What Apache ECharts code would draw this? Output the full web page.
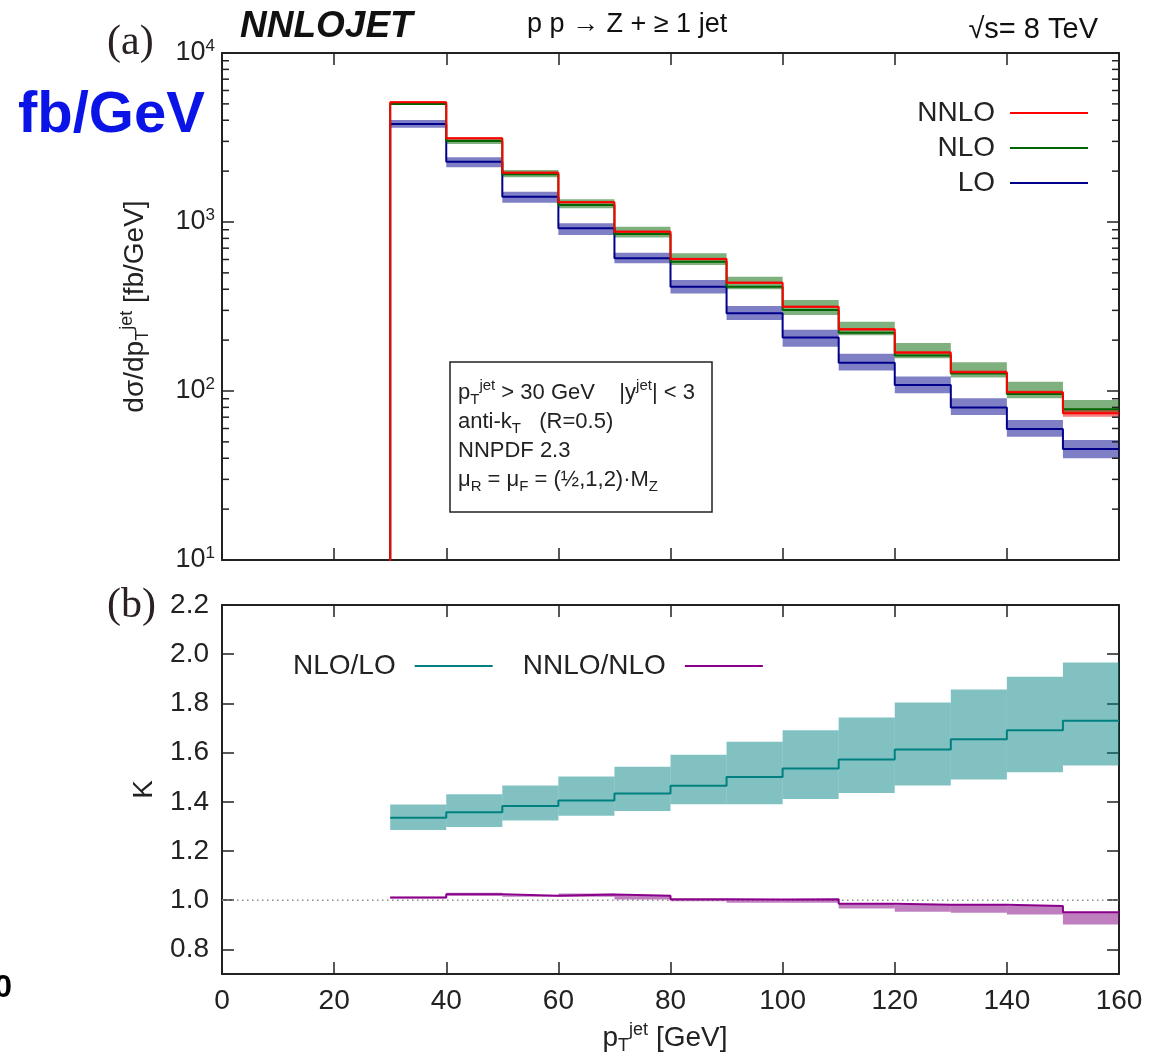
<!DOCTYPE html>
<html><head><meta charset="utf-8">
<script src="https://cdn.jsdelivr.net/npm/echarts@6/dist/echarts.min.js"></script>
<style>html,body{margin:0;padding:0;background:#fff;}#c{width:1157px;height:1056px;}</style>
</head><body><div id="c"></div>
<script>
// ---- data ----
const binEdges = [30,40,50,60,70,80,90,100,110,120,130,140,150,160];
const nnlo    = [5108,3128,1958,1309,877,604,437,315,232,169,129,98.2,73.8];
const nnloLow = [5030,3080,1925,1290,864,594,430,310,227,165,126,95.5,70.4];
const nnloHigh= [5180,3170,1990,1330,890,614,444,320,236,172,132,100.5,77.2];
const nlo     = [4993,3015,1916,1262,849,582,414,301,221,162,127,96,78];
const nloLow  = [4930,2890,1839,1205,811,557,400,282,214,156,120,90.5,73.8];
const nloHigh = [5150,3128,2031,1362,938,653,474,345,257,192,148,113.5,88.4];
const lo      = [3802,2274,1412,918,610,414,288,207,147,108.6,80,59.6,45.4];
const loLow   = [3614,2107,1301,838,570,378,263,183,132,97,72,53.7,40];
const loHigh  = [4013,2415,1511,982,658,454,318,230,166,122,90.5,67.4,51.3];
const kNloLo     = [1.335,1.358,1.383,1.405,1.434,1.465,1.501,1.535,1.572,1.613,1.654,1.691,1.729];
const kNloLoLow  = [1.285,1.298,1.324,1.343,1.363,1.390,1.390,1.411,1.436,1.466,1.491,1.520,1.548];
const kNloLoHigh = [1.389,1.431,1.466,1.503,1.542,1.591,1.644,1.691,1.743,1.804,1.856,1.908,1.966];
const kNnloNlo     = [1.011,1.024,1.018,1.023,1.018,1.004,1.003,1.004,0.986,0.981,0.981,0.976,0.951];
const kNnloNloLow  = [1.007,1.018,1.014,1.014,1.003,0.996,0.990,0.990,0.966,0.953,0.949,0.942,0.901];
const kNnloNloHigh = [1.014,1.030,1.020,1.027,1.020,1.005,1.004,1.004,0.986,0.981,0.981,0.976,0.951];
const kTickValues = [0.8,1.0,1.2,1.4,1.6,1.8,2.0,2.2];
const logMinor = [];
for (let e = 1; e < 4; e++) for (let k = 2; k <= 9; k++) logMinor.push(k * Math.pow(10, e));

// ---- helpers ----
const FF = '"Liberation Sans", Arial, Helvetica, sans-serif';
const AX = '#222';
function stepData(vals, floor) {
  const d = [];
  if (floor != null) d.push([binEdges[0], floor]);
  vals.forEach((v, i) => d.push([binEdges[i], v]));
  d.push([binEdges[binEdges.length - 1], vals[vals.length - 1]]);
  return d;
}
function bandSeries(name, low, high, color, xi, yi) {
  return {
    type: 'custom', name, xAxisIndex: xi, yAxisIndex: yi, z: 2, silent: true, animation: false,
    data: low.map((l, i) => [binEdges[i], binEdges[i + 1], l, high[i]]),
    encode: { x: [0, 1], y: [2, 3] },
    renderItem: (p, api) => {
      const a = api.coord([api.value(0), api.value(3)]);
      const b = api.coord([api.value(1), api.value(2)]);
      return { type: 'rect', shape: { x: a[0], y: a[1], width: b[0] - a[0], height: b[1] - a[1] }, style: { fill: color } };
    }
  };
}
function lineSeries(name, vals, color, xi, yi, floor) {
  return {
    type: 'line', name, xAxisIndex: xi, yAxisIndex: yi, step: 'end', data: stepData(vals, floor),
    symbol: 'none', showSymbol: false, clip: true, z: 3, animation: false,
    lineStyle: { color, width: 2 }, itemStyle: { color }
  };
}
function xAx(grid, pos, labels) {
  return {
    gridIndex: grid, type: 'value', min: 0, max: 160, interval: 20, position: pos,
    axisLine: { show: true, onZero: false, lineStyle: { color: AX, width: 2 } },
    axisTick: { show: true, inside: true, length: 12, lineStyle: { color: AX, width: 1.5 } },
    axisLabel: { show: labels, margin: 13, fontSize: 28, color: AX, fontFamily: FF },
    splitLine: { show: false }
  };
}
const supRich = {
  b: { fontSize: 27, lineHeight: 30, fontFamily: FF, color: AX },
  s: { fontSize: 17, lineHeight: 14, verticalAlign: 'top', fontFamily: FF, color: AX }
};
const subSupRich = (small) => ({
  sub: { fontSize: small, lineHeight: 14, verticalAlign: 'bottom', fontFamily: FF, color: AX },
  sup: { fontSize: small, lineHeight: 14, verticalAlign: 'top', fontFamily: FF, color: AX }
});

const chart = echarts.init(document.getElementById('c'), null, { renderer: 'canvas' });
const legendBase = {
  orient: 'horizontal', align: 'right', icon: 'rect', itemWidth: 78, itemHeight: 2, padding: 0,
  selectedMode: false, textStyle: { fontSize: 28, color: AX, fontFamily: FF, padding: [0, 10, 0, 0] }
};
chart.setOption({
  animation: false,
  backgroundColor: '#fff',
  grid: [
    { left: 222, top: 53, width: 897, height: 507 },
    { left: 222, top: 605, width: 897, height: 369 }
  ],
  legend: [
    Object.assign({}, legendBase, { data: ['NNLO'], right: 69, top: 99 }),
    Object.assign({}, legendBase, { data: ['NLO'], right: 69, top: 134 }),
    Object.assign({}, legendBase, { data: ['LO'], right: 69, top: 169 }),
    Object.assign({}, legendBase, { data: ['NLO/LO', 'NNLO/NLO'], left: 293, top: 652, itemGap: 30,
      textStyle: { fontSize: 28, color: AX, fontFamily: FF, padding: [0, 14, 0, 0] } })
  ],
  xAxis: [ xAx(0, 'bottom', false), xAx(0, 'top', false), xAx(1, 'bottom', true), xAx(1, 'top', false) ],
  yAxis: [
    {
      gridIndex: 0, type: 'log', logBase: 10, min: 10, max: 10000, interval: 1, position: 'left',
      axisLine: { show: true, onZero: false, lineStyle: { color: AX, width: 2 } },
      axisTick: { show: true, inside: true, length: 12, lineStyle: { color: AX, width: 1.5 } },
      axisLabel: {
        margin: 7, fontFamily: FF, color: AX,
        formatter: v => '{b|10}{s|' + Math.round(Math.log10(v)) + '}', rich: supRich
      },
      splitLine: { show: false },
      name: 'dσ/dp{sub|T}{sup|jet} [fb/GeV]', nameLocation: 'middle', nameRotate: 90, nameGap: 70,
      nameTextStyle: { fontSize: 28, lineHeight: 34, color: AX, fontFamily: FF, rich: subSupRich(18) }
    },
    {
      gridIndex: 0, type: 'log', logBase: 10, min: 10, max: 10000, interval: 1, position: 'right',
      axisLine: { show: true, onZero: false, lineStyle: { color: AX, width: 2 } },
      axisTick: { show: true, inside: true, length: 12, lineStyle: { color: AX, width: 1.5 } },
      axisLabel: { show: false }, splitLine: { show: false }
    },
    {
      gridIndex: 1, type: 'value', min: 0.7, max: 2.2, position: 'left',
      axisLine: { show: true, onZero: false, lineStyle: { color: AX, width: 2 } },
      axisTick: { show: true, inside: true, length: 12, customValues: kTickValues, lineStyle: { color: AX, width: 1.5 } },
      axisLabel: { margin: 13, fontSize: 28, color: AX, fontFamily: FF, customValues: kTickValues, formatter: v => v.toFixed(1) },
      splitLine: { show: false },
      name: 'K', nameLocation: 'middle', nameRotate: 90, nameGap: 64,
      nameTextStyle: { fontSize: 28, color: AX, fontFamily: FF }
    },
    {
      gridIndex: 1, type: 'value', min: 0.7, max: 2.2, position: 'right',
      axisLine: { show: true, onZero: false, lineStyle: { color: AX, width: 2 } },
      axisTick: { show: true, inside: true, length: 12, customValues: kTickValues, lineStyle: { color: AX, width: 1.5 } },
      axisLabel: { show: false, customValues: kTickValues }, splitLine: { show: false }
    }
  ],
  series: [
    {
      type: 'custom', name: 'minor', xAxisIndex: 0, yAxisIndex: 0, z: 5, silent: true,
      data: logMinor.map(v => [0, v]), encode: { x: 0, y: 1 },
      renderItem: (p, api) => {
        const l = api.coord([0, api.value(1)]);
        const r = api.coord([160, api.value(1)]);
        return { type: 'group', children: [
          { type: 'line', shape: { x1: l[0], y1: l[1], x2: l[0] + 7, y2: l[1] }, style: { stroke: AX, lineWidth: 1.5 } },
          { type: 'line', shape: { x1: r[0] - 7, y1: r[1], x2: r[0], y2: r[1] }, style: { stroke: AX, lineWidth: 1.5 } }
        ] };
      }
    },
    bandSeries('LO band', loLow, loHigh, 'rgba(0,0,140,0.5)', 0, 0),
    bandSeries('NLO band', nloLow, nloHigh, 'rgba(0,100,0,0.5)', 0, 0),
    bandSeries('NNLO band', nnloLow, nnloHigh, 'rgba(230,0,0,0.5)', 0, 0),
    lineSeries('LO', lo, '#00008a', 0, 0, 1),
    lineSeries('NLO', nlo, '#006400', 0, 0, 1),
    lineSeries('NNLO', nnlo, '#ff0000', 0, 0, 1),
    {
      type: 'line', name: 'unity', xAxisIndex: 2, yAxisIndex: 2, data: [[0, 1], [160, 1]], symbol: 'none', z: 1,
      lineStyle: { color: '#8a8a8a', width: 1.5, type: [1.5, 3.5] }, silent: true
    },
    bandSeries('NLO/LO band', kNloLoLow, kNloLoHigh, 'rgba(0,128,128,0.49)', 2, 2),
    bandSeries('NNLO/NLO band', kNnloNloLow, kNnloNloHigh, 'rgba(128,0,128,0.5)', 2, 2),
    lineSeries('NLO/LO', kNloLo, '#008080', 2, 2, null),
    lineSeries('NNLO/NLO', kNnloNlo, '#8b008b', 2, 2, null)
  ],
  graphic: [
    { type: 'text', x: 240, y: 27, style: { text: 'NNLOJET', font: 'italic bold 37px ' + FF, fill: '#111', verticalAlign: 'middle' } },
    { type: 'text', x: 527, y: 25, style: { text: 'p p → Z + ≥ 1 jet', font: '27px ' + FF, fill: '#111', verticalAlign: 'middle' } },
    { type: 'text', x: 1098, y: 30, style: { text: '√s= 8 TeV', font: '29px ' + FF, fill: '#111', align: 'right', verticalAlign: 'middle' } },
    { type: 'text', x: 107, y: 43, style: { text: '(a)', font: '42px "Liberation Serif", "Times New Roman", serif', fill: '#2a2222', verticalAlign: 'middle' } },
    { type: 'text', x: 107, y: 606, style: { text: '(b)', font: '42px "Liberation Serif", "Times New Roman", serif', fill: '#2a2222', verticalAlign: 'middle' } },
    { type: 'text', x: 18, y: 116, style: { text: 'fb/GeV', font: 'bold 58px ' + FF, fill: '#0a14e6', verticalAlign: 'middle' } },
    { type: 'text', x: 12, y: 988, style: { text: '0', font: 'bold 32px ' + FF, fill: '#000', align: 'right', verticalAlign: 'middle' } },
    { type: 'text', x: 665, y: 1038, style: { text: 'p{sub|T}{sup|jet} [GeV]', fontSize: 28, lineHeight: 34, fontFamily: FF, fill: AX, align: 'center', verticalAlign: 'middle', rich: subSupRich(18) } },
    { type: 'rect', z: 100, shape: { x: 450, y: 362, width: 262, height: 150 }, style: { fill: '#fff', stroke: AX, lineWidth: 1.5 } },
    { type: 'text', z: 101, x: 458, y: 436, style: {
        text: 'p{sub|T}{sup|jet} > 30 GeV    |y{sup|jet}| < 3\nanti-k{sub|T}   (R=0.5)\nNNPDF 2.3\nμ{sub|R} = μ{sub|F} = (½,1,2)·M{sub|Z}',
        fontSize: 22, lineHeight: 29, fontFamily: FF, fill: AX, verticalAlign: 'middle',
        rich: {
          sub: { fontSize: 15, lineHeight: 12, verticalAlign: 'bottom', fontFamily: FF, fill: AX },
          sup: { fontSize: 15, lineHeight: 12, verticalAlign: 'top', fontFamily: FF, fill: AX }
        } } }
  ]
});
</script></body></html>
